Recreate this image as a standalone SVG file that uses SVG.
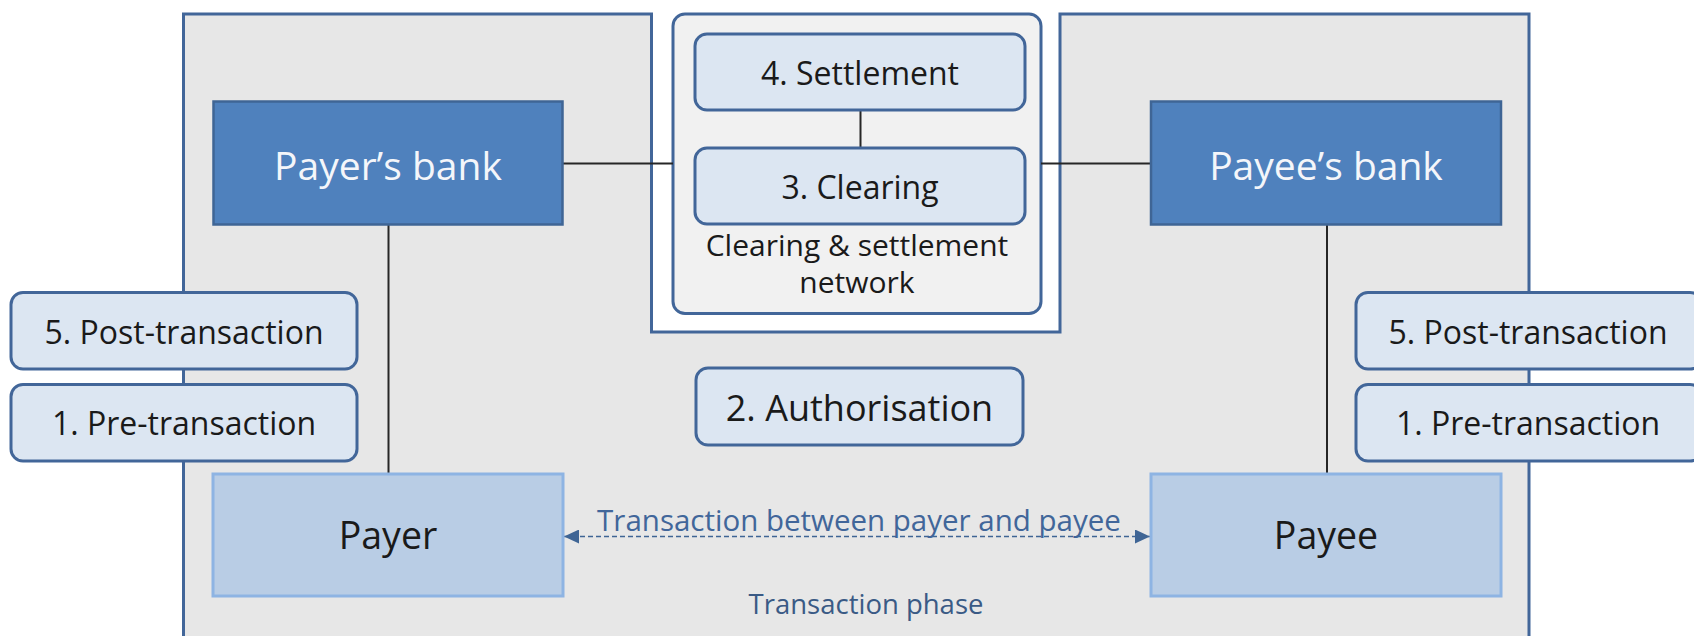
<svg xmlns="http://www.w3.org/2000/svg" width="1694" height="636" viewBox="0 0 1694 636">
  <defs>
    <style>
      .frame { fill: #e7e7e7; stroke: #426699; stroke-width: 3; }
      .network { fill: #f1f1f1; stroke: #426699; stroke-width: 3; }
      .bank { fill: #4f81bd; stroke: #3f6595; stroke-width: 2.5; }
      .party { fill: #b9cde5; stroke: #8eb4e3; stroke-width: 3; }
      .step { fill: #dce6f2; stroke: #426699; stroke-width: 3; }
      .link { stroke: #262626; stroke-width: 2; fill: none; }
      .flow { stroke: #3f6595; stroke-width: 1.6; stroke-dasharray: 5 3; fill: none; }
      text { font-family: "Open Sans", "Liberation Sans", sans-serif; text-anchor: middle; }
      .bank-label { fill: #f4f6fa; font-size: 39px; }
      .step-label { fill: #1a1a1a; font-size: 32px; }
      .party-label { fill: #1a1a1a; font-size: 37.5px; }
      .note { fill: #1a1a1a; font-size: 30px; }
      .phase { fill: #3a5a85; font-size: 27.5px; }
      .flow-label { fill: #41669a; font-size: 29.5px; }
    </style>
    <marker id="arrow-end" markerUnits="userSpaceOnUse" markerWidth="16" markerHeight="14" refX="15" refY="7" orient="auto">
      <path d="M0,0 L15,7 L0,14 Z" fill="#3f6595"/>
    </marker>
    <marker id="arrow-start" markerUnits="userSpaceOnUse" markerWidth="16" markerHeight="14" refX="0" refY="7" orient="auto">
      <path d="M15,0 L0,7 L15,14 Z" fill="#3f6595"/>
    </marker>
  </defs>

  <!-- Transaction phase frame with notch for the clearing network -->
  <g id="transaction-phase">
    <polygon class="frame" points="183.5,14 651.5,14 651.5,332 1060,332 1060,14 1529,14 1529,642 183.5,642"/>
    <text class="phase" x="866" y="614">Transaction phase</text>
  </g>

  <g id="clearing-network">
    <rect class="network" x="673" y="14" width="368" height="299.5" rx="12"/>
    <text class="note" x="857" y="256">Clearing &amp; settlement</text>
    <text class="note" x="857" y="293">network</text>
  </g>

  <!-- Connectors -->
  <g id="connectors">
    <line class="link" x1="562.5" y1="163.5" x2="673" y2="163.5"/>
    <line class="link" x1="1041" y1="163.5" x2="1151" y2="163.5"/>
    <line class="link" x1="860.5" y1="110" x2="860.5" y2="148"/>
    <line class="link" x1="388.5" y1="224.5" x2="388.5" y2="474"/>
    <line class="link" x1="1327" y1="224.5" x2="1327" y2="474"/>
    <line class="flow" x1="564" y1="536.5" x2="1150" y2="536.5" marker-start="url(#arrow-start)" marker-end="url(#arrow-end)"/>
    <text class="flow-label" x="859" y="531">Transaction between payer and payee</text>
  </g>

  <g id="settlement">
    <rect class="step" x="695" y="34" width="330" height="76" rx="12"/>
    <text class="step-label" x="860" y="85">4. Settlement</text>
  </g>

  <g id="clearing">
    <rect class="step" x="695" y="148" width="330" height="76" rx="12"/>
    <text class="step-label" x="860" y="198.5">3. Clearing</text>
  </g>

  <g id="payers-bank">
    <rect class="bank" x="213.5" y="101.5" width="349" height="123"/>
    <text class="bank-label" x="388" y="179.5">Payer’s bank</text>
  </g>

  <g id="payees-bank">
    <rect class="bank" x="1151" y="101.5" width="350" height="123"/>
    <text class="bank-label" x="1326" y="179.5">Payee’s bank</text>
  </g>

  <g id="payer-post-transaction">
    <rect class="step" x="11" y="292.5" width="346" height="76.5" rx="12"/>
    <text class="step-label" x="184" y="343.5">5. Post-transaction</text>
  </g>

  <g id="payer-pre-transaction">
    <rect class="step" x="11" y="384.5" width="346" height="76.5" rx="12"/>
    <text class="step-label" x="184" y="434.5">1. Pre-transaction</text>
  </g>

  <g id="payee-post-transaction">
    <rect class="step" x="1356" y="292.5" width="346" height="76.5" rx="12"/>
    <text class="step-label" x="1528" y="343.5">5. Post-transaction</text>
  </g>

  <g id="payee-pre-transaction">
    <rect class="step" x="1356" y="384.5" width="346" height="76.5" rx="12"/>
    <text class="step-label" x="1528" y="434.5">1. Pre-transaction</text>
  </g>

  <g id="authorisation">
    <rect class="step" x="696" y="368" width="327" height="77" rx="12"/>
    <text class="step-label" x="859.5" y="421" style="font-size:36px">2. Authorisation</text>
  </g>

  <g id="payer">
    <rect class="party" x="213" y="474" width="350" height="122"/>
    <text class="party-label" x="388" y="549">Payer</text>
  </g>

  <g id="payee">
    <rect class="party" x="1151" y="474" width="350" height="122"/>
    <text class="party-label" x="1326" y="549">Payee</text>
  </g>
</svg>
